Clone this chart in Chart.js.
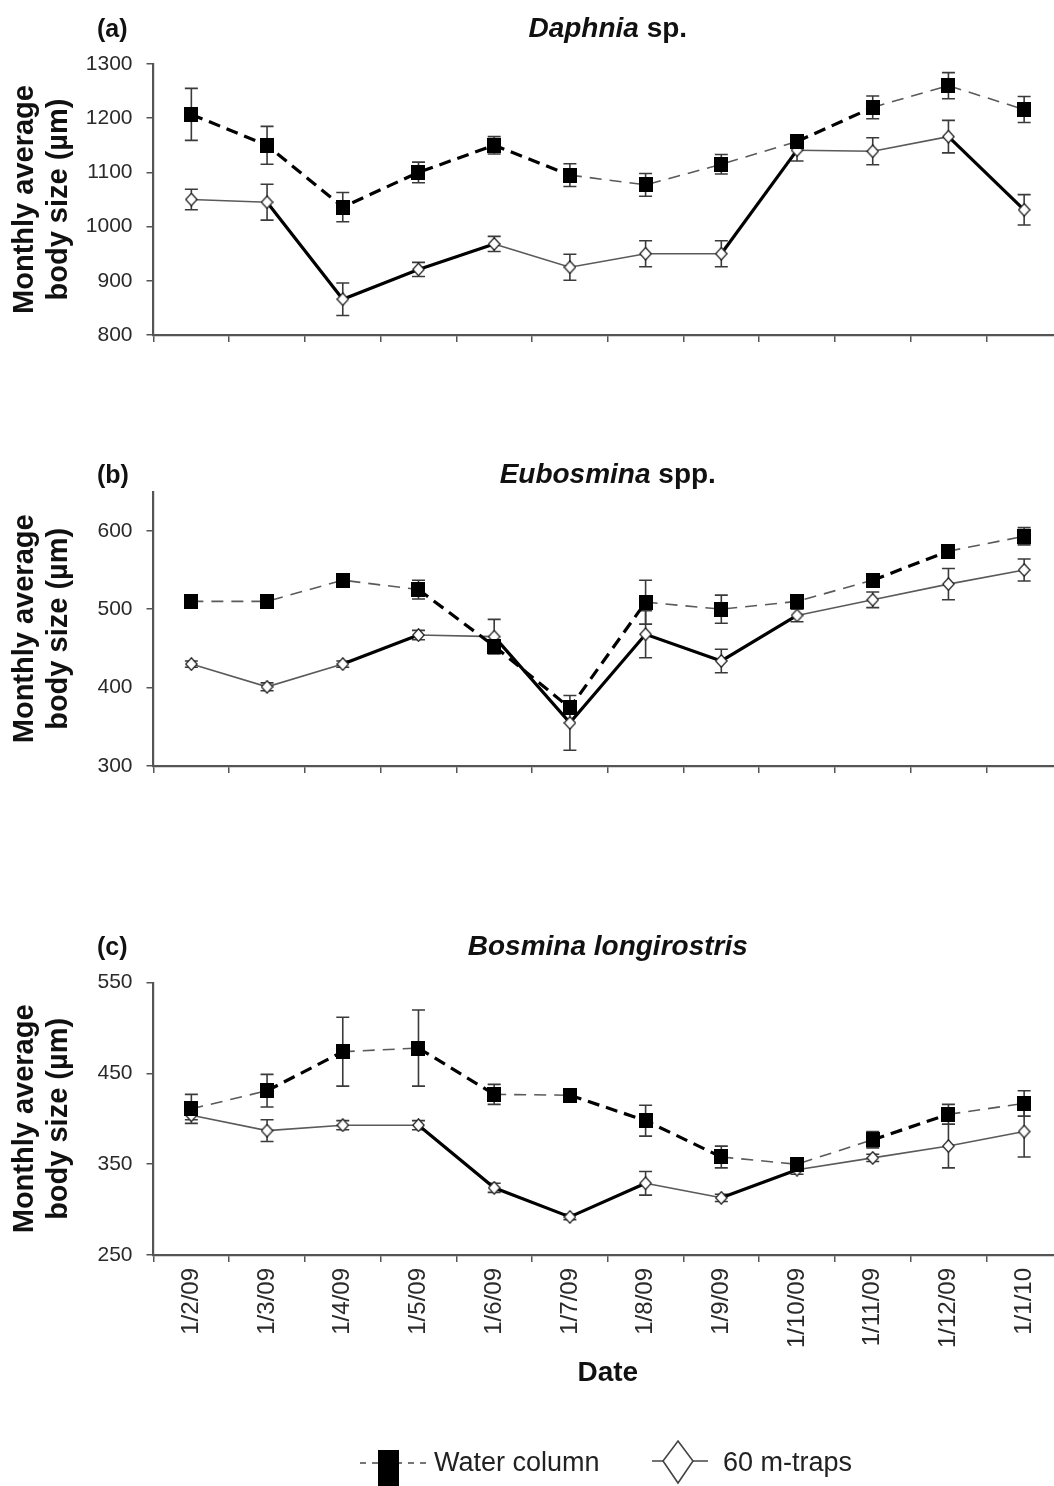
<!DOCTYPE html>
<html>
<head>
<meta charset="utf-8">
<script src="https://cdn.jsdelivr.net/npm/chart.js@4.4.0/dist/chart.umd.min.js"></script>
<style>
html,body{margin:0;padding:0;background:#fff;overflow:hidden;}
#wrap{position:relative;width:1054px;height:1486px;overflow:hidden;background:#fff;}
canvas{position:absolute;left:0;}
</style>
</head>
<body>
<div id="wrap">
  <canvas id="ca" width="1070" height="370" style="top:0px"></canvas>
  <canvas id="cb" width="1070" height="360" style="top:440px"></canvas>
  <canvas id="cc" width="1070" height="586" style="top:900px"></canvas>
</div>
<script>
// ---------------- DATA ----------------
const dates = ['1/2/09','1/3/09','1/4/09','1/5/09','1/6/09','1/7/09','1/8/09','1/9/09','1/10/09','1/11/09','1/12/09','1/1/10'];
const seriesNames = ['Water column', '60 m-traps'];
const yAxisTitle = ['Monthly average', 'body size (\u00b5m)'];
const xAxisTitle = 'Date';

// (a) Daphnia sp.
const titleA = [['Daphnia', true], [' sp.', false]];
const ticksA = [800, 900, 1000, 1100, 1200, 1300];
const waterA    = [1207, 1150, 1036, 1100, 1150, 1095, 1077, 1115, 1157, 1220, 1260, 1216];
const waterErrA = [48, 35, 27, 19, 16, 21, 21, 18, 8, 21, 24, 24];
const trapsA    = [1050, 1045, 866, 921, 968, 925, 950, 950, 1141, 1139, 1166, 1031];
const trapsErrA = [19, 33, 30, 13, 14, 24, 24, 24, 20, 25, 30, 28];
const waterSigA = [1, 1, 1, 1, 1, 0, 0, 0, 1, 0, 0];   // emphasised (bold) segments
const trapsSigA = [0, 1, 1, 1, 0, 0, 0, 1, 0, 0, 1];

// (b) Eubosmina spp.
const titleB = [['Eubosmina', true], [' spp.', false]];
const ticksB = [300, 400, 500, 600];
const waterB    = [510, 510, 537, 525, 453, 374, 509, 500, 510, 537, 574, 593];
const waterErrB = [4, 4, 8, 12, 8, 6, 28, 18, 5, 6, 5, 11];
const trapsB    = [430, 401, 430, 467, 465, 355, 468, 434, 492, 512, 532, 550];
const trapsErrB = [4, 5, 4, 6, 22, 35, 30, 15, 8, 10, 20, 14];
const waterSigB = [0, 0, 0, 1, 1, 1, 0, 0, 0, 1, 0];
const trapsSigB = [0, 0, 1, 0, 1, 1, 1, 1, 0, 0, 0];

// (c) Bosmina longirostris
const titleC = [['Bosmina longirostris', true]];
const ticksC = [250, 350, 450, 550];
const waterC    = [411, 431, 474, 478, 427, 426, 398, 358, 350, 377, 405, 417];
const waterErrC = [16, 18, 38, 42, 11, 5, 17, 12, 5, 9, 11, 14];
const trapsC    = [404, 387, 393, 393, 324, 292, 329, 313, 344, 357, 370, 386];
const trapsErrC = [5, 12, 5, 5, 5, 3, 13, 4, 5, 4, 24, 28];
const waterSigC = [0, 1, 0, 1, 0, 1, 1, 0, 0, 1, 0];
const trapsSigC = [0, 0, 0, 1, 1, 1, 0, 1, 0, 0, 0];

// ---------------- STYLE HELPERS ----------------
const FONT = '"Liberation Sans", Arial, Helvetica, sans-serif';

function squareMarker() {
  const c = document.createElement('canvas');
  c.width = 14; c.height = 15;
  const g = c.getContext('2d');
  g.fillStyle = '#000';
  g.fillRect(0, 0, 14, 15);
  return c;
}
function diamondMarker() {
  const c = document.createElement('canvas');
  c.width = 13; c.height = 14;
  const g = c.getContext('2d');
  g.beginPath();
  g.moveTo(6.5, 0.8); g.lineTo(12.2, 7); g.lineTo(6.5, 13.2); g.lineTo(0.8, 7); g.closePath();
  g.fillStyle = '#fff'; g.fill();
  g.strokeStyle = '#222'; g.lineWidth = 1.3; g.stroke();
  return c;
}
const SQ = squareMarker();
const DM = diamondMarker();

const errorBars = {
  id: 'errorBars',
  beforeDatasetsDraw(chart) {
    const ctx = chart.ctx;
    const ys = chart.scales.y;
    ctx.save();
    ctx.strokeStyle = '#3a3a3a';
    ctx.lineWidth = 1.6;
    chart.data.datasets.forEach((ds, i) => {
      const meta = chart.getDatasetMeta(i);
      meta.data.forEach((pt, j) => {
        const v = ds.data[j], e = ds.errors[j];
        const x = pt.x;
        const y1 = ys.getPixelForValue(v + e), y2 = ys.getPixelForValue(v - e);
        ctx.beginPath();
        ctx.moveTo(x, y1); ctx.lineTo(x, y2);
        ctx.moveTo(x - 6.5, y1); ctx.lineTo(x + 6.5, y1);
        ctx.moveTo(x - 6.5, y2); ctx.lineTo(x + 6.5, y2);
        ctx.stroke();
      });
    });
    ctx.restore();
  }
};

const panelText = {
  id: 'panelText',
  afterDraw(chart, args, o) {
    const ctx = chart.ctx;
    ctx.save();
    ctx.fillStyle = '#111';
    ctx.textBaseline = 'alphabetic';
    ctx.textAlign = 'left';
    ctx.font = 'bold 25px ' + FONT;
    ctx.fillText(o.label, 97, o.baseline);
    let total = 0;
    const parts = o.title.map(p => {
      ctx.font = (p[1] ? 'italic ' : '') + 'bold 28px ' + FONT;
      const w = ctx.measureText(p[0]).width;
      total += w;
      return {t: p[0], it: p[1], w};
    });
    let x = (chart.chartArea.left + chart.chartArea.right) / 2 - total / 2;
    parts.forEach(p => {
      ctx.font = (p.it ? 'italic ' : '') + 'bold 28px ' + FONT;
      ctx.fillText(p.t, x, o.baseline);
      x += p.w;
    });
    ctx.restore();
  }
};

const bottomLegend = {
  id: 'bottomLegend',
  afterDraw(chart, args, o) {
    if (!o.show) return;
    const ctx = chart.ctx;
    const cy = o.y;
    const ds = chart.data.datasets;
    ctx.save();
    // Water column symbol
    ctx.strokeStyle = '#555'; ctx.lineWidth = 1.6; ctx.setLineDash([6, 6]);
    ctx.beginPath(); ctx.moveTo(360, cy); ctx.lineTo(430, cy); ctx.stroke();
    ctx.setLineDash([]);
    ctx.fillStyle = '#000';
    ctx.fillRect(378, cy - 13, 21, 38);
    // 60 m-traps symbol
    ctx.strokeStyle = '#444'; ctx.lineWidth = 1.6;
    ctx.beginPath(); ctx.moveTo(652, cy - 2); ctx.lineTo(708, cy - 2); ctx.stroke();
    ctx.beginPath();
    ctx.moveTo(678, cy - 22); ctx.lineTo(693, cy - 2); ctx.lineTo(678, cy + 20); ctx.lineTo(663, cy - 2); ctx.closePath();
    ctx.fillStyle = '#fff'; ctx.fill(); ctx.stroke();
    // texts
    ctx.fillStyle = '#222';
    ctx.font = '27px ' + FONT;
    ctx.textBaseline = 'alphabetic';
    ctx.fillText(ds[0].label, 434, cy + 8);
    ctx.fillText(ds[1].label, 723, cy + 8);
    ctx.restore();
  }
};

function segStyle(sig, dashed) {
  return {
    borderWidth: c => sig[c.p0DataIndex] ? 3.2 : 1.6,
    borderColor: c => sig[c.p0DataIndex] ? '#000' : '#5a5a5a',
    borderDash: c => dashed ? (sig[c.p0DataIndex] ? [12, 7] : [12, 8]) : []
  };
}

function makeChart(id, cfg) {
  const ctx = document.getElementById(id).getContext('2d');
  return new Chart(ctx, {
    type: 'line',
    data: {
      labels: dates,
      datasets: [
        {
          label: seriesNames[0], data: cfg.water, errors: cfg.waterErr,
          borderColor: '#000', borderWidth: 1.6, borderDash: [12, 8],
          pointStyle: SQ, pointRadius: 5, tension: 0, fill: false,
          segment: segStyle(cfg.waterSig, true)
        },
        {
          label: seriesNames[1], data: cfg.traps, errors: cfg.trapsErr,
          borderColor: '#000', borderWidth: 1.6,
          pointStyle: DM, pointRadius: 5, tension: 0, fill: false,
          segment: segStyle(cfg.trapsSig, false)
        }
      ]
    },
    options: {
      responsive: false,
      animation: false,
      devicePixelRatio: 1,
      events: [],
      layout: {padding: {top: cfg.padTop, left: 0, right: 8, bottom: cfg.padBottom}},
      plugins: {
        legend: {display: false},
        title: {display: false},
        tooltip: {enabled: false},
        panelText: {label: cfg.label, title: cfg.title, baseline: cfg.baseline},
        bottomLegend: {show: !!cfg.legend, y: cfg.legendY}
      },
      scales: {
        x: {
          type: 'category',
          offset: true,
          grid: {offset: true, drawOnChartArea: false, drawTicks: true, tickLength: 7, color: '#555', lineWidth: 1.5},
          border: {display: true, color: '#555', width: 2.2},
          ticks: {
            display: !!cfg.showX, autoSkip: false, maxRotation: 90, minRotation: 90,
            padding: 6, color: '#2a2a2a', font: {family: FONT, size: 24}
          },
          title: {
            display: !!cfg.showX, text: xAxisTitle, color: '#111',
            font: {family: FONT, size: 28, weight: 'bold'}, padding: {top: 0, bottom: 0}
          },
          afterFit: s => { s.height = cfg.xH; }
        },
        y: {
          min: cfg.yMin, max: cfg.yMax,
          bounds: 'data',
          afterBuildTicks: s => { s.ticks = cfg.ticks.map(v => ({value: v})); },
          grid: {drawOnChartArea: false, drawTicks: true, tickLength: 7, color: '#555', lineWidth: 1.5},
          border: {display: true, color: '#555', width: 2.2},
          ticks: {
            padding: 14, color: '#2a2a2a', font: {family: FONT, size: 21},
            callback: v => String(v)
          },
          title: {
            display: true, text: yAxisTitle, color: '#111',
            font: {family: FONT, size: 29, weight: 'bold', lineHeight: 1.18},
            padding: {top: 8, bottom: 0}
          },
          afterFit: s => { s.width = 153.5; }
        }
      }
    },
    plugins: [errorBars, panelText, bottomLegend]
  });
}

makeChart('ca', {
  water: waterA, waterErr: waterErrA, traps: trapsA, trapsErr: trapsErrA,
  waterSig: waterSigA, trapsSig: trapsSigA, ticks: ticksA, yMin: 800, yMax: 1300,
  label: '(a)', title: titleA, baseline: 37,
  padTop: 64, padBottom: 0, xH: 35, showX: false
});
makeChart('cb', {
  water: waterB, waterErr: waterErrB, traps: trapsB, trapsErr: trapsErrB,
  waterSig: waterSigB, trapsSig: trapsSigB, ticks: ticksB, yMin: 300, yMax: 650,
  label: '(b)', title: titleB, baseline: 43,
  padTop: 51.6, padBottom: 0, xH: 34, showX: false
});
makeChart('cc', {
  water: waterC, waterErr: waterErrC, traps: trapsC, trapsErr: trapsErrC,
  waterSig: waterSigC, trapsSig: trapsSigC, ticks: ticksC, yMin: 250, yMax: 550,
  label: '(c)', title: titleC, baseline: 55,
  padTop: 82.7, padBottom: 96, xH: 135, showX: true,
  legend: true, legendY: 563
});
</script>
</body>
</html>
